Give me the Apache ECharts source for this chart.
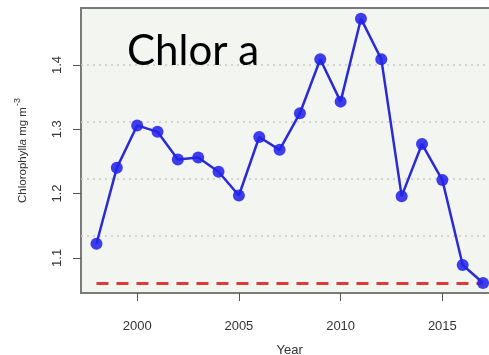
<!DOCTYPE html>
<html>
<head>
<meta charset="utf-8">
<script src="https://cdn.jsdelivr.net/npm/echarts@6/dist/echarts.min.js"></script>
<style>html,body{margin:0;padding:0;background:#fff;}#c{width:489px;height:355px;}</style>
</head>
<body>
<div id="c"></div>
<script>
// Data
var years = [1998,1999,2000,2001,2002,2003,2004,2005,2006,2007,2008,2009,2010,2011,2012,2013,2014,2015,2016,2017];
var chlorValues = [1.122,1.240,1.306,1.296,1.253,1.256,1.234,1.197,1.288,1.268,1.325,1.409,1.343,1.472,1.409,1.196,1.277,1.221,1.089,1.061];
var thresholdYears = [1998, 2017];
var thresholdValue = 1.06;
var xTickLabels = [2000, 2005, 2010, 2015];
var yTickLabels = [1.1, 1.2, 1.3, 1.4];
var titleText = 'Chlor a';
var xName = 'Year';

var chart = echarts.init(document.getElementById('c'), null, {renderer: 'canvas'});
var lineData = years.map(function (y, i) { return [y, chlorValues[i]]; });
var threshData = thresholdYears.map(function (y) { return [y, thresholdValue]; });

chart.setOption({
  animation: false,
  backgroundColor: '#ffffff',
  title: {
    text: titleText,
    left: 122,
    top: 25,
    textStyle: {fontFamily: 'Lato', fontSize: 42, fontWeight: 'normal', color: '#000'}
  },
  grid: {
    left: 81, top: 8, width: 417.5, height: 285,
    outerBoundsMode: 'none', containLabel: false,
    show: true, backgroundColor: '#f3f5f0', borderColor: '#7a7a7a', borderWidth: 2
  },
  xAxis: {
    type: 'value', min: 1997.24, max: 2017.76,
    name: xName, nameLocation: 'middle', nameGap: 51,
    nameTextStyle: {fontFamily: 'Liberation Sans', fontSize: 13, color: '#333'},
    axisLine: {show: false},
    axisTick: {show: true, length: 8, lineStyle: {color: '#555', width: 1}, customValues: xTickLabels},
    axisLabel: {customValues: xTickLabels, margin: 27, fontFamily: 'Liberation Sans', fontSize: 13, color: '#333',
      formatter: function (v) { return String(v); }},
    splitLine: {show: false}
  },
  yAxis: [{
    type: 'value', min: 1.0454, max: 1.4886,
    name: '{n|Chlorophyll}{i|a}{n| mg m}{s|-3}', nameLocation: 'middle', nameGap: 49, nameRotate: 90,
    nameTextStyle: {
      rich: {
        n: {fontFamily: 'Liberation Sans', fontSize: 11.5, color: '#333'},
        i: {fontFamily: 'Liberation Sans', fontSize: 11.5, fontStyle: 'italic', color: '#333'},
        s: {fontFamily: 'Liberation Sans', fontSize: 9, color: '#333', verticalAlign: 'top', padding: [0, 0, 10, 1]}
      }
    },
    axisLine: {show: false},
    axisTick: {show: true, length: 8, lineStyle: {color: '#555', width: 1}, customValues: yTickLabels},
    axisLabel: {customValues: yTickLabels, rotate: 90, margin: 17, fontFamily: 'Liberation Sans', fontSize: 13, color: '#333',
      formatter: function (v) { return v.toFixed(1); }},
    splitLine: {show: false}
  }, {
    type: 'value', min: 0, max: 5, interval: 1, position: 'right',
    axisLine: {show: false}, axisTick: {show: false}, axisLabel: {show: false},
    splitLine: {show: true, showMinLine: false, showMaxLine: false, lineStyle: {color: '#c8c8c8', type: [2, 4], width: 1.5}}
  }],
  series: [{
    type: 'line', data: threshData, yAxisIndex: 0, symbol: 'none', silent: true,
    lineStyle: {color: '#e0393a', width: 3, type: [12, 8]}, z: 2
  }, {
    type: 'line', data: lineData, yAxisIndex: 0, symbol: 'circle', symbolSize: 12,
    lineStyle: {color: '#2a2ad6', width: 2.5},
    itemStyle: {color: 'rgba(35,35,235,0.88)'}, z: 3
  }]
});
</script>
</body>
</html>
